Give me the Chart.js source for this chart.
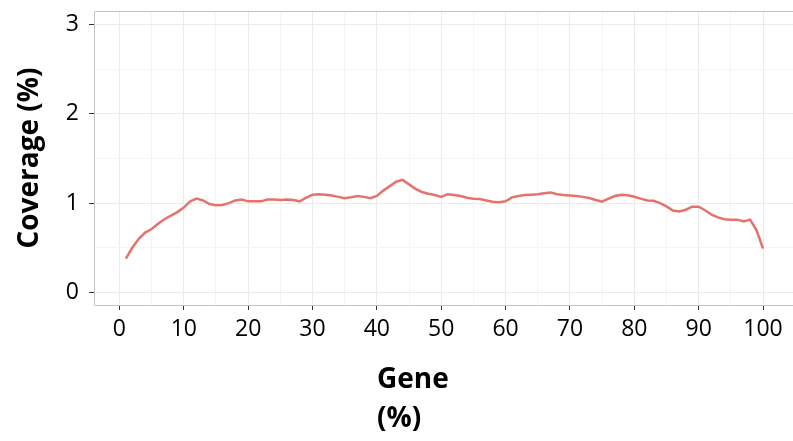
<!DOCTYPE html>
<html>
<head>
<meta charset="utf-8">
<script src="https://cdn.jsdelivr.net/npm/chart.js@4.4.0/dist/chart.umd.min.js"></script>
<style>
  html, body { margin: 0; padding: 0; background: #fff; }
  #myChart { display: block; }
</style>
</head>
<body>
<canvas id="myChart" width="793" height="441"></canvas>
<script>
// gene body position (%)
const genePos = [
    1, 2, 3, 4, 5, 6, 7, 8, 9, 10,
    11, 12, 13, 14, 15, 16, 17, 18, 19, 20,
    21, 22, 23, 24, 25, 26, 27, 28, 29, 30,
    31, 32, 33, 34, 35, 36, 37, 38, 39, 40,
    41, 42, 43, 44, 45, 46, 47, 48, 49, 50,
    51, 52, 53, 54, 55, 56, 57, 58, 59, 60,
    61, 62, 63, 64, 65, 66, 67, 68, 69, 70,
    71, 72, 73, 74, 75, 76, 77, 78, 79, 80,
    81, 82, 83, 84, 85, 86, 87, 88, 89, 90,
    91, 92, 93, 94, 95, 96, 97, 98, 99, 100
];
// coverage (%)
const coverage = [
    0.38, 0.50, 0.60, 0.67, 0.71, 0.77, 0.82, 0.86, 0.90, 0.95,
    1.02, 1.05, 1.03, 0.99, 0.975, 0.98, 1.00, 1.03, 1.04, 1.02,
    1.02, 1.02, 1.04, 1.04, 1.035, 1.04, 1.035, 1.02, 1.06, 1.095,
    1.10, 1.095, 1.085, 1.07, 1.055, 1.065, 1.08, 1.07, 1.055, 1.08,
    1.14, 1.19, 1.24, 1.26, 1.21, 1.16, 1.125, 1.105, 1.09, 1.07,
    1.10, 1.09, 1.08, 1.06, 1.05, 1.045, 1.03, 1.015, 1.01, 1.02,
    1.065, 1.08, 1.09, 1.095, 1.10, 1.11, 1.12, 1.10, 1.09, 1.085,
    1.08, 1.07, 1.057, 1.035, 1.016, 1.05, 1.08, 1.094, 1.088, 1.072,
    1.05, 1.03, 1.027, 1.00, 0.963, 0.917, 0.907, 0.926, 0.96, 0.96,
    0.92, 0.87, 0.84, 0.82, 0.815, 0.815, 0.796, 0.815, 0.695, 0.49
];
const xTicks = [0, 5, 10, 15, 20, 25, 30, 35, 40, 45, 50, 55, 60, 65, 70, 75, 80, 85, 90, 95, 100];
const yTicks = [0, 0.5, 1, 1.5, 2, 2.5, 3];
const xTitle = ['Gene', '(%)'];
const yTitle = 'Coverage (%)';

const FONT = "'Open Sans', 'DejaVu Sans', sans-serif";
const majorGrid = '#ebebeb';
const minorGrid = '#f5f5f5';
const isMajorX = v => v % 10 === 0;
const isMajorY = v => v % 1 === 0;

// ggplot-ish panel border (right side falls off the canvas) and axis titles
const decor = {
    id: 'decor',
    afterDraw(chart) {
        const c = chart.ctx;
        const a = chart.chartArea;
        c.save();
        c.strokeStyle = '#c4c4c4';
        c.lineWidth = 1;
        c.beginPath();
        c.moveTo(a.right, a.top + 0.5);
        c.lineTo(a.left + 0.5, a.top + 0.5);
        c.lineTo(a.left + 0.5, a.bottom + 0.5);
        c.lineTo(a.right, a.bottom + 0.5);
        c.stroke();

        c.fillStyle = '#000';
        c.font = 'bold 28px ' + FONT;
        c.textAlign = 'left';
        c.textBaseline = 'alphabetic';
        c.fillText(xTitle[0], 377, 388);
        c.fillText(xTitle[1], 377, 427);

        c.translate(38, (a.top + a.bottom) / 2);
        c.rotate(-Math.PI / 2);
        c.textAlign = 'center';
        c.fillText(yTitle, 0, 0);
        c.restore();
    }
};

new Chart(document.getElementById('myChart'), {
    type: 'line',
    data: {
        datasets: [{
            data: genePos.map((x, i) => ({ x: x, y: coverage[i] })),
            borderColor: '#e5736b',
            borderWidth: 2.5,
            pointRadius: 0,
            tension: 0,
            fill: false
        }]
    },
    options: {
        responsive: false,
        animation: false,
        layout: { padding: { left: 0, top: 11, right: 0, bottom: 0 } },
        plugins: {
            legend: { display: false },
            tooltip: { enabled: false }
        },
        scales: {
            x: {
                type: 'linear',
                min: -3.95,
                max: 104.66,
                afterBuildTicks: s => { s.ticks = xTicks.map(v => ({ value: v })); },
                afterFit: s => { s.height = 136; s.paddingLeft = 0; s.paddingRight = 0; },
                border: { display: false },
                grid: {
                    color: ctx => isMajorX(ctx.tick.value) ? majorGrid : minorGrid,
                    tickColor: ctx => isMajorX(ctx.tick.value) ? '#333' : 'rgba(0,0,0,0)',
                    tickLength: 5,
                    lineWidth: 1
                },
                ticks: {
                    autoSkip: false,
                    maxRotation: 0,
                    padding: 6,
                    color: '#000',
                    font: { family: FONT, size: 23 },
                    callback: v => isMajorX(v) ? String(v) : ''
                }
            },
            y: {
                min: -0.14,
                max: 3.15,
                afterBuildTicks: s => { s.ticks = yTicks.map(v => ({ value: v })); },
                afterFit: s => { s.width = 94; s.paddingTop = 0; s.paddingBottom = 0; },
                border: { display: false },
                grid: {
                    color: ctx => isMajorY(ctx.tick.value) ? majorGrid : minorGrid,
                    tickColor: ctx => isMajorY(ctx.tick.value) ? '#333' : 'rgba(0,0,0,0)',
                    tickLength: 5,
                    lineWidth: 1
                },
                ticks: {
                    autoSkip: false,
                    padding: 10,
                    color: '#000',
                    font: { family: FONT, size: 23 },
                    callback: v => isMajorY(v) ? String(v) : ''
                }
            }
        }
    },
    plugins: [decor]
});
</script>
</body>
</html>
